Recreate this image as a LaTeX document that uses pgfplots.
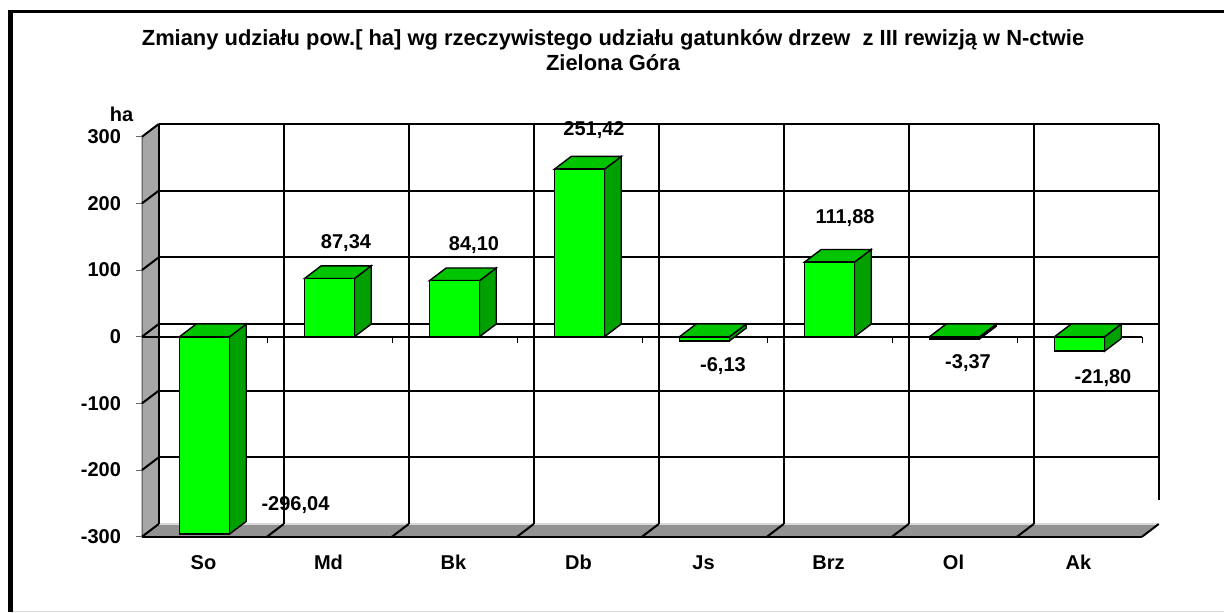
\documentclass[border=0pt]{standalone}
\usepackage{fontspec}
\setmainfont{Liberation Sans}
\usepackage{pgfplots}
\pgfplotsset{compat=1.18}
\definecolor{wallg}{HTML}{A6A6A6}
\definecolor{floorg}{HTML}{929292}
\definecolor{barF}{HTML}{00FF00}
\definecolor{barT}{HTML}{00C400}
\definecolor{barS}{HTML}{00A000}
% one line of the chart frame work, in axis units
\newcommand\GL[1]{\addplot[black,line width=1pt] coordinates {#1};}
% side and top face of a bar: x0 x1 x0+d x1+d value value+d
\newcommand\Cube[6]{%
  \addplot[fill=barS,draw=black,line width=0.7pt] coordinates {(#2,0) (#2,#5) (#4,#6) (#4,19)} -- cycle;
  \ifdim #5pt<0pt
    \addplot[fill=barT,draw=black,line width=0.7pt] coordinates {(#1,0) (#2,0) (#4,19) (#3,19)} -- cycle;
  \else
    \addplot[fill=barT,draw=black,line width=0.7pt] coordinates {(#1,#5) (#2,#5) (#4,#6) (#3,#6)} -- cycle;
  \fi}
\begin{document}
\begin{tikzpicture}
\path[use as bounding box] (0,0) rectangle (612pt,306pt);
% outer frame
\fill[black] (4.2pt,0) rectangle (6.4pt,301pt);
\fill[black] (4.2pt,299.4pt) rectangle (612pt,301pt);
\draw[black!15,line width=0.5pt] (6.4pt,0.2pt) -- (612pt,0.2pt);
\begin{axis}[
  at={(71pt,37.65pt)},anchor=south west,
  scale only axis,width=500pt,height=200pt,
  xmin=0,xmax=8,ymin=-300,ymax=300,
  clip=false,
  axis line style={draw=none},
  major tick length=0pt,
  tick style={draw=none},
  xtick={0.5,1.5,2.5,3.5,4.5,5.5,6.5,7.5},
  xticklabels={So,Md,Bk,Db,Js,Brz,Ol,Ak},
  ytick={-300,-200,-100,0,100,200,300},
  /pgf/number format/assume math mode=true,
  ticklabel style={font=\fontsize{10}{12}\selectfont\bfseries},
  xticklabel style={anchor=base,yshift=-16.15pt,xshift=-0.5pt},
  yticklabel style={xshift=-7pt},
  title={Zmiany udziału pow.[ ha] wg rzeczywistego udziału gatunków drzew\ \ z III rewizją w N-ctwie\\Zielona Góra},
  title style={at={(axis cs:3.768,412)},anchor=center,align=center,
    font=\fontsize{10.95}{12.6}\selectfont\bfseries,yshift=0pt},
]
% side wall and floor
\addplot[fill=wallg,draw=black!70,line width=0.5pt] coordinates {(0,-300) (0,300) (0.1336,319) (0.1336,-281)} -- cycle;
\addplot[fill=floorg,draw=none] coordinates {(0,-300) (8,-300) (8.1336,-281) (0.1336,-281)} -- cycle;
\addplot[black!15,line width=0.6pt] coordinates {(0.1336,-281) (8.1336,-281)};
% back wall, horizontal
\GL{(0.1336,319) (8.1336,319)}
\GL{(0.1336,219) (8.1336,219)}
\GL{(0.1336,119) (8.1336,119)}
\GL{(0.1336,19) (8.1336,19)}
\GL{(0.1336,-81) (8.1336,-81)}
\GL{(0.1336,-181) (8.1336,-181)}
% back wall, vertical
\GL{(0.1336,-281) (0.1336,319)}
\GL{(1.1336,-281) (1.1336,319)}
\GL{(2.1336,-281) (2.1336,319)}
\GL{(3.1336,-281) (3.1336,319)}
\GL{(4.1336,-281) (4.1336,319)}
\GL{(5.1336,-281) (5.1336,319)}
\GL{(6.1336,-281) (6.1336,319)}
\GL{(7.1336,-281) (7.1336,319)}
\GL{(8.1336,-245) (8.1336,319)}
% side wall diagonals
\GL{(0,300) (0.1336,319)}
\GL{(0,200) (0.1336,219)}
\GL{(0,100) (0.1336,119)}
\GL{(0,0) (0.1336,19)}
\GL{(0,-100) (0.1336,-81)}
\GL{(0,-200) (0.1336,-181)}
\GL{(0,-300) (0.1336,-281)}
% floor diagonals
\GL{(1,-300) (1.1336,-281)}
\GL{(2,-300) (2.1336,-281)}
\GL{(3,-300) (3.1336,-281)}
\GL{(4,-300) (4.1336,-281)}
\GL{(5,-300) (5.1336,-281)}
\GL{(6,-300) (6.1336,-281)}
\GL{(7,-300) (7.1336,-281)}
\GL{(8,-300) (8.1336,-281)}
% front axis lines
\addplot[black,line width=1.2pt] coordinates {(0,-300) (8,-300)};
% ticks on zero line
\addplot[black,line width=0.4pt] coordinates {(1,0) (1,-9)};
\addplot[black,line width=0.4pt] coordinates {(2,0) (2,-9)};
\addplot[black,line width=0.4pt] coordinates {(3,0) (3,-9)};
\addplot[black,line width=0.4pt] coordinates {(4,0) (4,-9)};
\addplot[black,line width=0.4pt] coordinates {(5,0) (5,-9)};
\addplot[black,line width=0.4pt] coordinates {(6,0) (6,-9)};
\addplot[black,line width=0.4pt] coordinates {(7,0) (7,-9)};
\addplot[black,line width=0.4pt] coordinates {(8,0) (8,-9)};
% ticks on value axis
\addplot[black!60,line width=0.5pt] coordinates {(-0.045,300) (0,300)};
\addplot[black!60,line width=0.5pt] coordinates {(-0.045,200) (0,200)};
\addplot[black!60,line width=0.5pt] coordinates {(-0.045,100) (0,100)};
\addplot[black!60,line width=0.5pt] coordinates {(-0.045,0) (0,0)};
\addplot[black!60,line width=0.5pt] coordinates {(-0.045,-100) (0,-100)};
\addplot[black!60,line width=0.5pt] coordinates {(-0.045,-200) (0,-200)};
\addplot[black!60,line width=0.5pt] coordinates {(-0.045,-300) (0,-300)};
% front zero line
\addplot[black,line width=1.1pt] coordinates {(0,0) (4,0) (8,0)};
% bars
\Cube{0.3}{0.7}{0.4336}{0.8336}{-296.04}{-277.04}
\Cube{1.3}{1.7}{1.4336}{1.8336}{87.34}{106.34}
\Cube{2.3}{2.7}{2.4336}{2.8336}{84.10}{103.10}
\Cube{3.3}{3.7}{3.4336}{3.8336}{251.42}{270.42}
\Cube{4.3}{4.7}{4.4336}{4.8336}{-6.13}{12.87}
\Cube{5.3}{5.7}{5.4336}{5.8336}{111.88}{130.88}
\Cube{6.3}{6.7}{6.4336}{6.8336}{-3.37}{15.63}
\Cube{7.3}{7.7}{7.4336}{7.8336}{-21.80}{-2.80}
\addplot[ybar,bar width=25pt,bar shift=0pt,fill=barF,draw=black,line width=0.85pt] coordinates {
  (0.5,-296.04) (1.5,87.34) (2.5,84.10) (3.5,251.42) (4.5,-6.13) (5.5,111.88) (6.5,-3.37) (7.5,-21.80)};
% value labels and unit
\tikzset{lab/.style={font=\fontsize{10}{12}\selectfont\bfseries,inner sep=0pt}}
\node[lab] at (axis cs:1.228,-253) {-296,04};
\node[lab] at (axis cs:1.632,140.5) {87,34};
\node[lab] at (axis cs:2.656,137.6) {84,10};
\node[lab] at (axis cs:3.616,310) {251,42};
\node[lab] at (axis cs:4.648,-44) {-6,13};
\node[lab] at (axis cs:5.624,178) {111,88};
\node[lab] at (axis cs:6.608,-39.5) {-3,37};
\node[lab] at (axis cs:7.688,-62) {-21,80};
\node[lab] at (axis cs:-0.164,334) {ha};
\end{axis}
\end{tikzpicture}
\end{document}
